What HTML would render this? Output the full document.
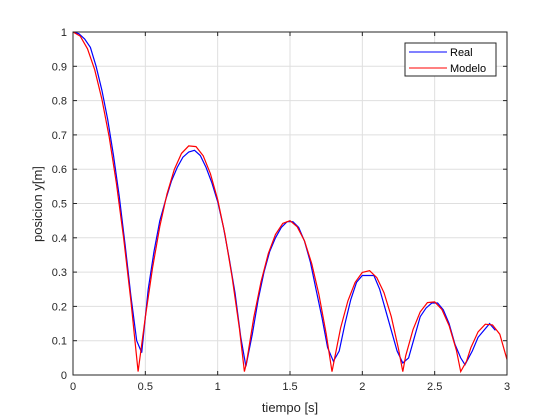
<!DOCTYPE html>
<html><head><meta charset="utf-8"><style>
body{margin:0;background:#fff;}
svg{display:block;font-family:"Liberation Sans",sans-serif;}
</style></head><body>
<svg id="chart" width="560" height="420">
<rect x="0" y="0" width="560" height="420" fill="#fff"/>
<g id="grid"></g>
<g id="series"></g>
<g id="axes"></g>
<text x="290" y="412" font-size="13" text-anchor="middle" fill="#262626">tiempo [s]</text>
<text transform="translate(42,204) rotate(-90)" font-size="13" text-anchor="middle" fill="#262626">posicion y[m]</text>
<g>
<rect x="405" y="43" width="91" height="33" fill="#fff" stroke="#262626" stroke-width="1"/>
<line x1="409" y1="52" x2="447" y2="52" stroke="#0000ff" stroke-width="1"/>
<text x="450" y="56" font-size="11" fill="#000">Real</text>
<line x1="409" y1="68" x2="447" y2="68" stroke="#ff0000" stroke-width="1"/>
<text x="450" y="72" font-size="11" fill="#000">Modelo</text>
</g>
</svg>
<script>
const xTicks=[0,0.5,1,1.5,2,2.5,3];
const xTickLabels=["0","0.5","1","1.5","2","2.5","3"];
const yTicks=[0,0.1,0.2,0.3,0.4,0.5,0.6,0.7,0.8,0.9,1];
const yTickLabels=["0","0.1","0.2","0.3","0.4","0.5","0.6","0.7","0.8","0.9","1"];
const realT=[0,0.04,0.08,0.12,0.16,0.2,0.24,0.28,0.32,0.36,0.4,0.44,0.475,0.52,0.56,0.6,0.64,0.68,0.72,0.76,0.8,0.84,0.88,0.92,0.96,1.0,1.04,1.08,1.12,1.16,1.195,1.24,1.28,1.32,1.36,1.4,1.44,1.48,1.52,1.56,1.6,1.64,1.68,1.72,1.76,1.8,1.84,1.88,1.92,1.96,2.0,2.04,2.08,2.12,2.16,2.2,2.24,2.28,2.32,2.36,2.4,2.44,2.48,2.52,2.56,2.6,2.64,2.68,2.71,2.76,2.8,2.84,2.88,2.92];
const realY=[1,0.995,0.98,0.955,0.9,0.83,0.745,0.64,0.52,0.38,0.23,0.1,0.065,0.25,0.36,0.45,0.51,0.565,0.605,0.635,0.65,0.655,0.64,0.605,0.56,0.505,0.43,0.34,0.24,0.11,0.025,0.12,0.22,0.3,0.36,0.4,0.43,0.447,0.447,0.43,0.39,0.33,0.25,0.17,0.08,0.04,0.07,0.15,0.22,0.27,0.29,0.29,0.29,0.25,0.19,0.13,0.07,0.035,0.05,0.11,0.17,0.195,0.21,0.21,0.19,0.15,0.09,0.05,0.03,0.07,0.11,0.13,0.15,0.13];
const modelT=[0,0.05,0.1,0.15,0.2,0.25,0.3,0.35,0.4,0.45,0.5,0.55,0.6,0.65,0.7,0.75,0.8,0.85,0.9,0.95,1.0,1.05,1.1,1.15,1.185,1.2,1.25,1.3,1.35,1.4,1.45,1.5,1.55,1.6,1.65,1.7,1.75,1.79,1.85,1.9,1.95,2.0,2.05,2.1,2.15,2.2,2.25,2.28,2.3,2.35,2.4,2.45,2.5,2.55,2.6,2.65,2.68,2.72,2.75,2.8,2.85,2.9,2.95,3.0];
const modelY=[1,0.988,0.951,0.89,0.804,0.694,0.559,0.4,0.216,0.01,0.168,0.313,0.433,0.528,0.599,0.646,0.668,0.666,0.639,0.587,0.511,0.411,0.285,0.136,0.01,0.038,0.168,0.273,0.354,0.41,0.442,0.45,0.432,0.391,0.325,0.235,0.12,0.01,0.137,0.216,0.27,0.299,0.304,0.284,0.24,0.17,0.076,0.01,0.056,0.132,0.184,0.211,0.213,0.191,0.144,0.072,0.01,0.04,0.079,0.126,0.148,0.146,0.119,0.045];
const X0=73,X1=507,Y0=375,Y1=32;
const sx=v=>X0+(v-0)/(3-0)*(X1-X0);
const sy=v=>Y0-(v-0)/(1-0)*(Y0-Y1);
const NS="http://www.w3.org/2000/svg";
function mk(tag,attrs,parent){const e=document.createElementNS(NS,tag);for(const k in attrs)e.setAttribute(k,attrs[k]);parent.appendChild(e);return e;}
const grid=document.getElementById('grid'),axes=document.getElementById('axes'),series=document.getElementById('series');
xTicks.forEach((t,i)=>{
  const g=mk('line',{x1:sx(t),x2:sx(t),y1:Y1,y2:Y0,stroke:'#dfdfdf','stroke-width':1},grid);
  
  
  const tk=mk('line',{x1:sx(t),x2:sx(t),y1:Y0,y2:Y0-4,stroke:'#262626'},axes);
  
  
  const tk2=mk('line',{x1:sx(t),x2:sx(t),y1:Y1,y2:Y1+4,stroke:'#262626'},axes);
  
  
  const l=mk('text',{x:sx(t),y:Y0+15,'font-size':11,'text-anchor':'middle',fill:'#262626'},axes);
  l.textContent=xTickLabels[i];
  
  
});
yTicks.forEach((t,i)=>{
  const g=mk('line',{x1:X0,x2:X1,y1:sy(t),y2:sy(t),stroke:'#dfdfdf','stroke-width':1},grid);
  
  
  const tk=mk('line',{x1:X0,x2:X0+4,y1:sy(t),y2:sy(t),stroke:'#262626'},axes);
  
  
  const tk2=mk('line',{x1:X1,x2:X1-4,y1:sy(t),y2:sy(t),stroke:'#262626'},axes);
  
  
  const l=mk('text',{x:X0-6,y:sy(t)+4,'font-size':11,'text-anchor':'end',fill:'#262626'},axes);
  l.textContent=yTickLabels[i];
  
  
});
const box=mk('rect',{x:X0,y:Y1,width:X1-X0,height:Y0-Y1,fill:'none',stroke:'#262626','stroke-width':1},axes);


function path(T,Y){return T.map((t,i)=>(i?'L':'M')+sx(t).toFixed(1)+','+sy(Y[i]).toFixed(1)).join('');}
const pr=mk('path',{d:path(realT,realY),fill:'none',stroke:'#0000ff','stroke-width':1.2},series);


const pm=mk('path',{d:path(modelT,modelY),fill:'none',stroke:'#ff0000','stroke-width':1.2},series);


</script>
</body></html>
